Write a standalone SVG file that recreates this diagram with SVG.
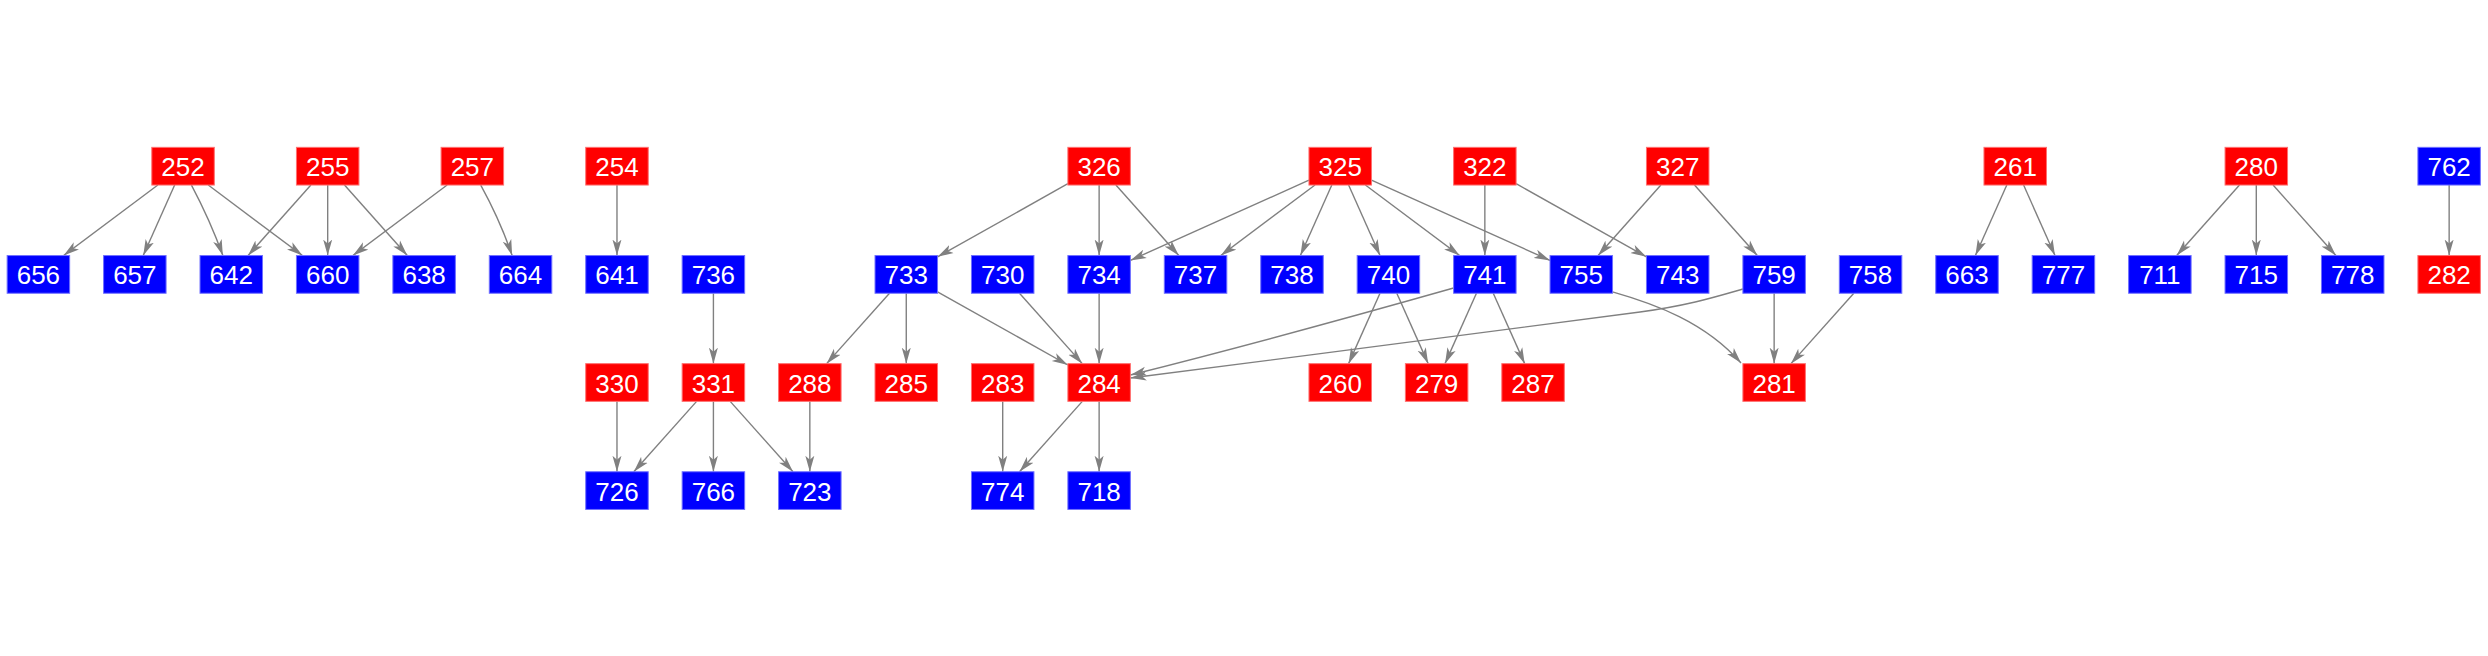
<svg xmlns="http://www.w3.org/2000/svg" width="2488" height="656" viewBox="0 0 2488 656">
<style>
.r rect{fill:#ff0000;stroke:#ff7070;stroke-width:1}
.b rect{fill:#0000ff;stroke:#7070ff;stroke-width:1}
text{font-family:"Liberation Sans",Arial,sans-serif;font-size:26px;fill:#ffffff;text-anchor:middle}
.e{fill:none;stroke:#808080;stroke-width:1.4;marker-end:url(#arr)}
</style>
<defs>
<marker id="arr" markerUnits="userSpaceOnUse" markerWidth="16" markerHeight="10" viewBox="0 0 16 10" refX="16" refY="5" orient="auto"><path d="M0,0.5 L16,5 L0,9.5 L4,5 z" fill="#808080"/></marker>
</defs>
<rect width="2488" height="656" fill="#ffffff"/>
<g id="edges">
<path class="e" d="M157.85,185.05 L63.6,255.55"/>
<path class="e" d="M174.65,185.05 L143.23,255.55"/>
<path class="e" d="M191.45,185.05 Q210,220 222.86,255.55"/>
<path class="e" d="M208.25,185.05 L302.49,255.55"/>
<path class="e" d="M310.89,185.05 L248.06,255.55"/>
<path class="e" d="M327.69,185.05 L327.69,255.55"/>
<path class="e" d="M344.49,185.05 L407.32,255.55"/>
<path class="e" d="M447.14,185.05 L352.89,255.55"/>
<path class="e" d="M480.74,185.05 Q500,220 512.15,255.55"/>
<path class="e" d="M616.98,185.05 L616.98,255.55"/>
<path class="e" d="M713.41,293.25 L713.41,363.65"/>
<path class="e" d="M616.98,401.35 L616.98,471.75"/>
<path class="e" d="M696.6,401.35 L633.8,471.75"/>
<path class="e" d="M713.41,401.35 L713.41,471.75"/>
<path class="e" d="M730.2,401.35 L793.0,471.75"/>
<path class="e" d="M809.84,401.35 L809.84,471.75"/>
<path class="e" d="M889.5,293.25 L826.6,363.65"/>
<path class="e" d="M906.27,293.25 L906.27,363.65"/>
<path class="e" d="M937.52,291.9 L1067.88,365.0"/>
<path class="e" d="M1067.88,183.73 L937.52,256.87"/>
<path class="e" d="M1099.13,185.05 L1099.13,255.55"/>
<path class="e" d="M1115.9,185.05 L1178.8,255.55"/>
<path class="e" d="M1019.5,293.25 L1082.3,363.65"/>
<path class="e" d="M1099.13,293.25 L1099.13,363.65"/>
<path class="e" d="M1002.7,401.35 L1002.7,471.75"/>
<path class="e" d="M1082.3,401.35 L1019.5,471.75"/>
<path class="e" d="M1099.13,401.35 L1099.13,471.75"/>
<path class="e" d="M1308.96,180.22 L1130.38,260.38"/>
<path class="e" d="M1315.0,185.05 L1220.8,255.55"/>
<path class="e" d="M1331.8,185.05 L1300.4,255.55"/>
<path class="e" d="M1348.6,185.05 L1380.0,255.55"/>
<path class="e" d="M1365.4,185.05 L1459.65,255.55"/>
<path class="e" d="M1371.46,180.22 L1550.03,260.38"/>
<path class="e" d="M1484.85,185.05 L1484.85,255.55"/>
<path class="e" d="M1516.1,183.73 L1646.46,256.87"/>
<path class="e" d="M1660.9,185.05 L1598.1,255.55"/>
<path class="e" d="M1694.5,185.05 L1757.3,255.55"/>
<path class="e" d="M1380.0,293.25 L1348.6,363.65"/>
<path class="e" d="M1396.8,293.25 L1428.2,363.65"/>
<path class="e" d="M1476.45,293.25 L1445.0,363.65"/>
<path class="e" d="M1493.25,293.25 L1524.7,363.65"/>
<path class="e" d="M1453.6,288 C1390,306 1250,345 1130.4,375"/>
<path class="e" d="M1742.9,289 C1715,297 1690,305 1640,312 C1480,334 1300,356 1130.4,378"/>
<path class="e" d="M1774.14,293.25 L1774.14,363.65"/>
<path class="e" d="M1612.5,291.9 C1655,304 1705,322 1741,363"/>
<path class="e" d="M1853.8,293.25 L1790.9,363.65"/>
<path class="e" d="M2006.8,185.05 L1975.4,255.55"/>
<path class="e" d="M2023.6,185.05 L2055.0,255.55"/>
<path class="e" d="M2239.5,185.05 L2176.7,255.55"/>
<path class="e" d="M2256.29,185.05 L2256.29,255.55"/>
<path class="e" d="M2273.1,185.05 L2335.9,255.55"/>
<path class="e" d="M2449.15,185.05 L2449.15,255.55"/>
</g>
<g id="n252" class="r"><rect x="151.8" y="147.35" width="62.5" height="37.7"/><text x="183.05" y="176.2">252</text></g>
<g id="n255" class="r"><rect x="296.44" y="147.35" width="62.5" height="37.7"/><text x="327.69" y="176.2">255</text></g>
<g id="n257" class="r"><rect x="441.09" y="147.35" width="62.5" height="37.7"/><text x="472.34" y="176.2">257</text></g>
<g id="n254" class="r"><rect x="585.73" y="147.35" width="62.5" height="37.7"/><text x="616.98" y="176.2">254</text></g>
<g id="n326" class="r"><rect x="1067.88" y="147.35" width="62.5" height="37.7"/><text x="1099.13" y="176.2">326</text></g>
<g id="n325" class="r"><rect x="1308.96" y="147.35" width="62.5" height="37.7"/><text x="1340.21" y="176.2">325</text></g>
<g id="n322" class="r"><rect x="1453.6" y="147.35" width="62.5" height="37.7"/><text x="1484.85" y="176.2">322</text></g>
<g id="n327" class="r"><rect x="1646.46" y="147.35" width="62.5" height="37.7"/><text x="1677.71" y="176.2">327</text></g>
<g id="n261" class="r"><rect x="1983.97" y="147.35" width="62.5" height="37.7"/><text x="2015.22" y="176.2">261</text></g>
<g id="n280" class="r"><rect x="2225.04" y="147.35" width="62.5" height="37.7"/><text x="2256.29" y="176.2">280</text></g>
<g id="n762" class="b"><rect x="2417.9" y="147.35" width="62.5" height="37.7"/><text x="2449.15" y="176.2">762</text></g>
<g id="n656" class="b"><rect x="7.15" y="255.55" width="62.5" height="37.7"/><text x="38.4" y="284.4">656</text></g>
<g id="n657" class="b"><rect x="103.58" y="255.55" width="62.5" height="37.7"/><text x="134.83" y="284.4">657</text></g>
<g id="n642" class="b"><rect x="200.01" y="255.55" width="62.5" height="37.7"/><text x="231.26" y="284.4">642</text></g>
<g id="n660" class="b"><rect x="296.44" y="255.55" width="62.5" height="37.7"/><text x="327.69" y="284.4">660</text></g>
<g id="n638" class="b"><rect x="392.87" y="255.55" width="62.5" height="37.7"/><text x="424.12" y="284.4">638</text></g>
<g id="n664" class="b"><rect x="489.3" y="255.55" width="62.5" height="37.7"/><text x="520.55" y="284.4">664</text></g>
<g id="n641" class="b"><rect x="585.73" y="255.55" width="62.5" height="37.7"/><text x="616.98" y="284.4">641</text></g>
<g id="n736" class="b"><rect x="682.16" y="255.55" width="62.5" height="37.7"/><text x="713.41" y="284.4">736</text></g>
<g id="n733" class="b"><rect x="875.02" y="255.55" width="62.5" height="37.7"/><text x="906.27" y="284.4">733</text></g>
<g id="n730" class="b"><rect x="971.45" y="255.55" width="62.5" height="37.7"/><text x="1002.7" y="284.4">730</text></g>
<g id="n734" class="b"><rect x="1067.88" y="255.55" width="62.5" height="37.7"/><text x="1099.13" y="284.4">734</text></g>
<g id="n737" class="b"><rect x="1164.31" y="255.55" width="62.5" height="37.7"/><text x="1195.56" y="284.4">737</text></g>
<g id="n738" class="b"><rect x="1260.74" y="255.55" width="62.5" height="37.7"/><text x="1291.99" y="284.4">738</text></g>
<g id="n740" class="b"><rect x="1357.17" y="255.55" width="62.5" height="37.7"/><text x="1388.42" y="284.4">740</text></g>
<g id="n741" class="b"><rect x="1453.6" y="255.55" width="62.5" height="37.7"/><text x="1484.85" y="284.4">741</text></g>
<g id="n755" class="b"><rect x="1550.03" y="255.55" width="62.5" height="37.7"/><text x="1581.28" y="284.4">755</text></g>
<g id="n743" class="b"><rect x="1646.46" y="255.55" width="62.5" height="37.7"/><text x="1677.71" y="284.4">743</text></g>
<g id="n759" class="b"><rect x="1742.89" y="255.55" width="62.5" height="37.7"/><text x="1774.14" y="284.4">759</text></g>
<g id="n758" class="b"><rect x="1839.32" y="255.55" width="62.5" height="37.7"/><text x="1870.57" y="284.4">758</text></g>
<g id="n663" class="b"><rect x="1935.75" y="255.55" width="62.5" height="37.7"/><text x="1967.0" y="284.4">663</text></g>
<g id="n777" class="b"><rect x="2032.18" y="255.55" width="62.5" height="37.7"/><text x="2063.43" y="284.4">777</text></g>
<g id="n711" class="b"><rect x="2128.61" y="255.55" width="62.5" height="37.7"/><text x="2159.86" y="284.4">711</text></g>
<g id="n715" class="b"><rect x="2225.04" y="255.55" width="62.5" height="37.7"/><text x="2256.29" y="284.4">715</text></g>
<g id="n778" class="b"><rect x="2321.47" y="255.55" width="62.5" height="37.7"/><text x="2352.72" y="284.4">778</text></g>
<g id="n282" class="r"><rect x="2417.9" y="255.55" width="62.5" height="37.7"/><text x="2449.15" y="284.4">282</text></g>
<g id="n330" class="r"><rect x="585.73" y="363.65" width="62.5" height="37.7"/><text x="616.98" y="392.5">330</text></g>
<g id="n331" class="r"><rect x="682.16" y="363.65" width="62.5" height="37.7"/><text x="713.41" y="392.5">331</text></g>
<g id="n288" class="r"><rect x="778.59" y="363.65" width="62.5" height="37.7"/><text x="809.84" y="392.5">288</text></g>
<g id="n285" class="r"><rect x="875.02" y="363.65" width="62.5" height="37.7"/><text x="906.27" y="392.5">285</text></g>
<g id="n283" class="r"><rect x="971.45" y="363.65" width="62.5" height="37.7"/><text x="1002.7" y="392.5">283</text></g>
<g id="n284" class="r"><rect x="1067.88" y="363.65" width="62.5" height="37.7"/><text x="1099.13" y="392.5">284</text></g>
<g id="n260" class="r"><rect x="1308.96" y="363.65" width="62.5" height="37.7"/><text x="1340.21" y="392.5">260</text></g>
<g id="n279" class="r"><rect x="1405.39" y="363.65" width="62.5" height="37.7"/><text x="1436.64" y="392.5">279</text></g>
<g id="n287" class="r"><rect x="1501.82" y="363.65" width="62.5" height="37.7"/><text x="1533.07" y="392.5">287</text></g>
<g id="n281" class="r"><rect x="1742.89" y="363.65" width="62.5" height="37.7"/><text x="1774.14" y="392.5">281</text></g>
<g id="n726" class="b"><rect x="585.73" y="471.75" width="62.5" height="37.7"/><text x="616.98" y="500.6">726</text></g>
<g id="n766" class="b"><rect x="682.16" y="471.75" width="62.5" height="37.7"/><text x="713.41" y="500.6">766</text></g>
<g id="n723" class="b"><rect x="778.59" y="471.75" width="62.5" height="37.7"/><text x="809.84" y="500.6">723</text></g>
<g id="n774" class="b"><rect x="971.45" y="471.75" width="62.5" height="37.7"/><text x="1002.7" y="500.6">774</text></g>
<g id="n718" class="b"><rect x="1067.88" y="471.75" width="62.5" height="37.7"/><text x="1099.13" y="500.6">718</text></g>
</svg>
